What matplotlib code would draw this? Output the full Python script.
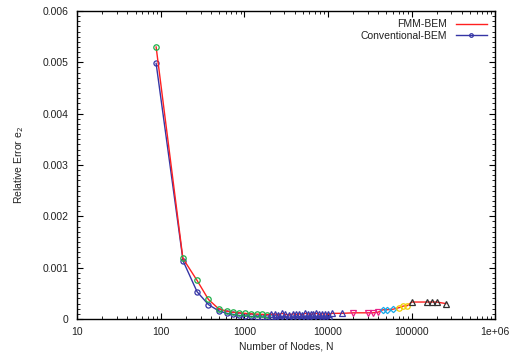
import matplotlib
matplotlib.use("Agg")
import matplotlib.pyplot as plt
import numpy as np
from matplotlib.ticker import FixedLocator, LogLocator, MultipleLocator, NullFormatter

plt.rcParams['font.family'] = ['Liberation Sans', 'DejaVu Sans']

# FMM-BEM, split by the marker groups seen in the picture
n_green = [88, 184, 272, 372, 491, 622, 730, 861, 1016, 1191, 1430, 1640, 1885]
e_green = [5.30, 1.18, 0.75, 0.38, 0.20, 0.15, 0.13, 0.12, 0.11, 0.10, 0.095, 0.09, 0.085]

n_tri = [2090, 2300, 2550, 2800, 3100, 3450, 3800, 4170, 4530, 4900, 5300,
         5750, 6200, 6700, 7250, 7850, 8500, 9200, 10000, 11300, 14800]
e_tri = [0.09, 0.10, 0.08, 0.11, 0.09, 0.08, 0.10, 0.09, 0.10, 0.08, 0.11,
         0.10, 0.09, 0.10, 0.11, 0.09, 0.10, 0.10, 0.09, 0.11, 0.11]

n_mag = [20200, 30000, 34400, 39500]
e_mag = [0.12, 0.12, 0.12, 0.13]

n_cyan = [45400, 50700, 59900]
e_cyan = [0.18, 0.18, 0.19]

n_yel = [70800, 79000, 89200]
e_yel = [0.22, 0.25, 0.26]

n_blk = [100000, 151000, 174000, 200000, 257000]
e_blk = [0.33, 0.33, 0.33, 0.33, 0.30]

# Conventional-BEM
n_conv = [88, 185, 272, 372, 491, 622, 730, 861, 1016, 1191, 1430, 1640, 1885,
          2100, 2400, 2700, 3000, 3400, 3800, 4300, 4800, 5400, 6000, 6700,
          7500, 8400, 9300, 10400]
e_conv = [4.98, 1.13, 0.53, 0.28, 0.16, 0.11, 0.09, 0.07, 0.06, 0.05, 0.045, 0.04,
          0.035, 0.03, 0.03, 0.025, 0.025, 0.02, 0.02, 0.02, 0.015, 0.015, 0.015,
          0.015, 0.01, 0.01, 0.01, 0.01]

x_ticks = [10, 100, 1000, 10000, 100000, 1000000]
x_labels = ['10', '100', '1000', '10000', '100000', '1e+06']
y_ticks = [0, 0.001, 0.002, 0.003, 0.004, 0.005, 0.006]
y_labels = ['0', '0.001', '0.002', '0.003', '0.004', '0.005', '0.006']

fig = plt.figure(figsize=(5.11, 3.56), dpi=100)
ax = fig.add_axes([0.151, 0.104, 0.818, 0.865])

groups = [
    (n_green, e_green, 'o', '#1db04a'),
    (n_tri, e_tri, '^', '#3a3aa8'),
    (n_mag, e_mag, 'v', '#e8208a'),
    (n_cyan, e_cyan, 'D', '#18a8e8'),
    (n_yel, e_yel, 'o', '#f0d000'),
    (n_blk, e_blk, '^', '#303030'),
]

n_fmm = np.concatenate([g[0] for g in groups])
e_fmm = np.concatenate([g[1] for g in groups]) * 1e-3
conv_e = np.array(e_conv) * 1e-3

ax.plot(n_conv, conv_e, color='#3535a5', lw=1.0, marker='o', ms=3.7,
        mfc='none', mec='#3535a5', mew=0.9, label='Conventional-BEM', zorder=3)
ax.plot(n_fmm, e_fmm, color='#ff2020', lw=1.0, zorder=4, label='FMM-BEM')
for n, e, m, c in groups:
    ms = 3.2 if m == 'D' else 3.9
    ax.plot(n, np.array(e) * 1e-3, ls='none', marker=m, ms=ms, mfc='none',
            mec=c, mew=0.9, zorder=5)

ax.set_xscale('log')
ax.set_xlim(10, 1e6)
ax.set_ylim(0, 0.006)
ax.xaxis.set_major_locator(FixedLocator(x_ticks))
ax.set_xticklabels(x_labels)
ax.xaxis.set_minor_locator(LogLocator(base=10, subs=np.arange(2, 10)))
ax.xaxis.set_minor_formatter(NullFormatter())
ax.set_yticks(y_ticks)
ax.set_yticklabels(y_labels)
ax.yaxis.set_minor_locator(MultipleLocator(0.0001))

ax.tick_params(which='both', direction='in', top=True, right=True,
               labelsize=7.5, colors='black', labelcolor='#222222', pad=6)
ax.tick_params(which='major', length=4, width=0.8)
ax.tick_params(which='minor', length=2, width=0.6)
for s in ax.spines.values():
    s.set_linewidth(1.0)

ax.set_xlabel('Number of Nodes, N', fontsize=7.5, labelpad=3, color='#222222')
ax.set_ylabel('Relative Error e$_2$', fontsize=7.5, labelpad=12, color='#222222')

h, l = ax.get_legend_handles_labels()
leg = ax.legend([h[1], h[0]], [l[1], l[0]], loc='upper right', frameon=False,
                markerfirst=False, fontsize=7.5, handlelength=3.0,
                handletextpad=0.8, labelspacing=0.15, borderaxespad=0.4,
                markerscale=0.7)
for t in leg.get_texts():
    t.set_color('#222222')

fig.savefig('out.png', dpi=100)
